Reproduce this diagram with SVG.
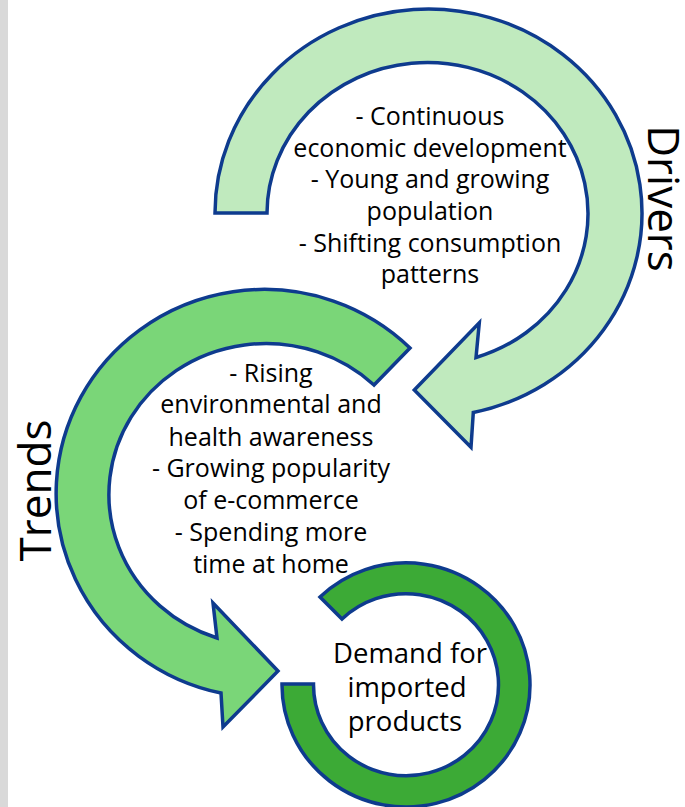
<svg xmlns="http://www.w3.org/2000/svg" width="685" height="807" viewBox="0 0 685 807">
  <style>
    .band { stroke: #0e3b8e; stroke-width: 3.5; stroke-linejoin: miter; }
    .drivers { fill: #c0eabe; }
    .trends { fill: #7ad678; }
    .demand { fill: #3caa36; }
    .lbl { font-family: "Open Sans", "Noto Sans", sans-serif; font-size: 25px; fill: #000; text-anchor: middle; }
    .big { font-size: 27.5px; }
    .title { font-family: "Open Sans", "Noto Sans", sans-serif; font-size: 44px; fill: #000; text-anchor: middle; }
  </style>

  <!-- left margin strip -->
  <rect x="0" y="0" width="8" height="807" fill="#d9d9d9"/>

  <g id="connectors">
    <!-- Drivers: clockwise curved arrow -->
    <path id="arrow-drivers" class="band drivers"
          d="M 215 213 A 213.5 204 0 1 1 473.3 412.5 L 471 447.3 L 414.3 390 L 479.3 322.7 L 476 357.5 A 160.5 151 0 1 0 267 213 Z"/>
    <!-- Trends: counter-clockwise curved arrow -->
    <path id="arrow-trends" class="band trends"
          d="M 410 348 A 208 204 0 1 0 221 693 L 223 727 L 278 671 L 213 603 L 217 638 A 157 151 0 1 1 374 385 Z"/>
  </g>

  <g id="node-drivers">
    <text class="lbl" x="430" y="125">- Continuous</text>
    <text class="lbl" x="430" y="157">economic development</text>
    <text class="lbl" x="430" y="188">- Young and growing</text>
    <text class="lbl" x="430" y="220">population</text>
    <text class="lbl" x="430" y="252">- Shifting consumption</text>
    <text class="lbl" x="430" y="283">patterns</text>
    <text class="title" transform="translate(648 198.5) rotate(90)">Drivers</text>
  </g>

  <g id="node-trends">
    <text class="lbl" x="271" y="382">- Rising</text>
    <text class="lbl" x="271" y="413">environmental and</text>
    <text class="lbl" x="271" y="446">health awareness</text>
    <text class="lbl" x="271" y="477">- Growing popularity</text>
    <text class="lbl" x="271" y="509">of e-commerce</text>
    <text class="lbl" x="271" y="541">- Spending more</text>
    <text class="lbl" x="271" y="573">time at home</text>
    <text class="title" transform="translate(51 490.5) rotate(-90)">Trends</text>
  </g>

  <g id="node-demand">
    <path class="band demand"
          d="M 320 597 A 124 122 0 1 1 282 684 L 313.5 684 A 92.5 91 0 1 0 342 619 Z"/>
    <text class="lbl big" x="410" y="663">Demand for</text>
    <text class="lbl big" x="407" y="697">imported</text>
    <text class="lbl big" x="405" y="731">products</text>
  </g>
</svg>
